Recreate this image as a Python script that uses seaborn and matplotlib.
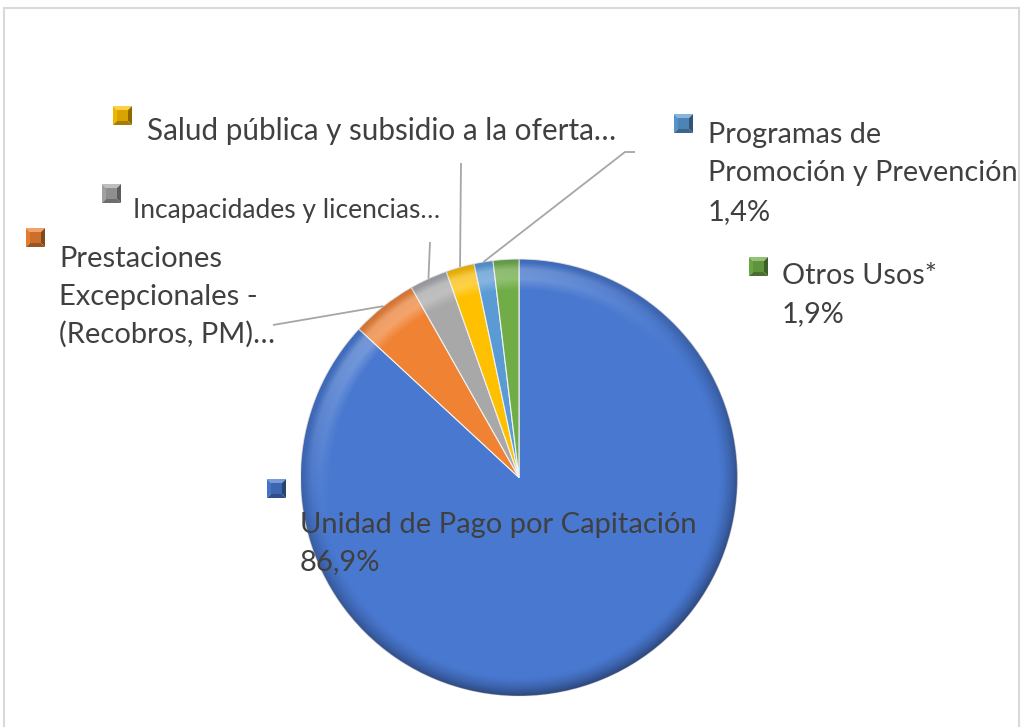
import numpy as np
import matplotlib
matplotlib.use("Agg")
import matplotlib.pyplot as plt
import matplotlib.colors as mcolors
import seaborn as sns
from matplotlib.patches import Circle, Polygon, Rectangle

# Shares of spending by use (%)
categories = [
    "Unidad de Pago por Capitación",
    "Prestaciones Excepcionales - (Recobros, PM)",
    "Incapacidades y licencias",
    "Salud pública y subsidio a la oferta",
    "Programas de Promoción y Prevención",
    "Otros Usos*",
]
shares = [86.9, 4.9, 2.8, 2.1, 1.4, 1.9]
colors = ["#4878CF", "#F08234", "#A8A8A8", "#FFC000", "#5B9BD5", "#70AD47"]


def pct(v):
    return f"{v:.1f}".replace(".", ",") + "%"


# Label text lines as printed next to each slice
label_lines = [
    [categories[0], pct(shares[0])],
    ["Prestaciones", "Excepcionales -", "(Recobros, PM)…"],
    ["Incapacidades y licencias…"],
    ["Salud pública y subsidio a la oferta…"],
    ["Programas de", "Promoción y Prevención", pct(shares[4])],
    [categories[5], pct(shares[5])],
]

sns.set_theme(style="white")
plt.rcParams["font.family"] = ["Lato", "DejaVu Sans"]

W, H = 1022, 727
fig = plt.figure(figsize=(W / 100, H / 100), dpi=100)
ax = fig.add_axes([0, 0, 1, 1])


def py(y):
    """Convert a top-down pixel row to the axes' bottom-up coordinate."""
    return H - y


cx, cy, R = 519.0, py(477.5), 218.5
wedges, _ = ax.pie(
    shares,
    colors=colors,
    startangle=90,
    counterclock=False,
    center=(cx, cy),
    radius=R,
    wedgeprops=dict(edgecolor="#F2F2F2", linewidth=0.8),
)
ax.set_xlim(0, W)
ax.set_ylim(0, H)
ax.set_aspect("equal")
ax.axis("off")

# Bevel-like shading along the rim of the pie
n = 700
xs = np.linspace(cx - R, cx + R, n)
ys = np.linspace(cy - R, cy + R, n)
X, Y = np.meshgrid(xs, ys)
dx, dy = X - cx, Y - cy
r = np.hypot(dx, dy) / R
ux, uy = dx / np.maximum(r * R, 1e-6), dy / np.maximum(r * R, 1e-6)
lx, ly = -0.45, 0.89
d = ux * lx + uy * ly
rim = np.clip((r - 0.91) / 0.09, 0, 1) ** 1.6
dark = np.zeros((n, n, 4))
dark[..., :3] = np.array(mcolors.to_rgb("#1F2F55"))
dark[..., 3] = rim * (0.15 + 0.55 * (1 - d) / 2)
im = ax.imshow(dark, origin="lower", extent=(cx - R, cx + R, cy - R, cy + R),
               interpolation="bilinear", zorder=3)
im.set_clip_path(Circle((cx, cy), R, transform=ax.transData))

band = np.clip((r - 0.86) / 0.05, 0, 1) * np.clip((0.985 - r) / 0.03, 0, 1)
light = np.zeros((n, n, 4))
light[..., :3] = 1.0
light[..., 3] = band * np.clip(d, 0, 1) ** 2 * 0.28
im2 = ax.imshow(light, origin="lower", extent=(cx - R, cx + R, cy - R, cy + R),
                interpolation="bilinear", zorder=3)
im2.set_clip_path(Circle((cx, cy), R, transform=ax.transData))
ax.set_xlim(0, W)
ax.set_ylim(0, H)

text_color = "#404040"
leader_color = "#A6A6A6"


def rim_mid(w):
    a = np.deg2rad((w.theta1 + w.theta2) / 2)
    return cx + R * np.cos(a), cy + R * np.sin(a)


# Leader lines from slice edge to its label
leaders = {
    1: [(273, 325)],
    2: [(430, 242)],
    3: [(461, 163)],
    4: [(625, 152), (635, 152)],
}
for i, pts in leaders.items():
    x0, y0 = rim_mid(wedges[i])
    xs_l = [x0] + [p[0] for p in pts]
    ys_l = [y0] + [py(p[1]) for p in pts]
    ax.plot(xs_l, ys_l, color=leader_color, lw=1.3, zorder=2, solid_capstyle="butt")


def mix(c, other, t):
    c = np.array(mcolors.to_rgb(c))
    o = np.array(mcolors.to_rgb(other))
    return tuple(c * (1 - t) + o * t)


def draw_key(x, ytop, s, color):
    x0, x1 = x, x + s
    y1, y0 = py(ytop), py(ytop + s)
    inset = s * 0.22
    xi0, xi1, yi0, yi1 = x0 + inset, x1 - inset, y0 + inset, y1 - inset
    faces = [
        ([(x0, y1), (x1, y1), (xi1, yi1), (xi0, yi1)], mix(color, "white", 0.25)),
        ([(x0, y0), (x0, y1), (xi0, yi1), (xi0, yi0)], mix(color, "black", 0.05)),
        ([(x1, y0), (x1, y1), (xi1, yi1), (xi1, yi0)], mix(color, "black", 0.45)),
        ([(x0, y0), (x1, y0), (xi1, yi0), (xi0, yi0)], mix(color, "black", 0.35)),
    ]
    for verts, fc in faces:
        ax.add_patch(Polygon(verts, closed=True, fc=fc, ec="none", zorder=4))
    ax.add_patch(Rectangle((xi0, yi0), xi1 - xi0, yi1 - yi0,
                           fc=mix(color, "black", 0.15), ec="none", zorder=4))


# Label layout: key square (x, top), text x, first baseline, line step, size
layout = [
    dict(key=(267, 479), tx=300, base=533, step=37, fs=21),
    dict(key=(26, 228), tx=59, base=267, step=38, fs=21),
    dict(key=(102, 184), tx=133, base=218, step=38, fs=19),
    dict(key=(113, 106), tx=147, base=140, step=38, fs=21.3),
    dict(key=(674, 114), tx=708, base=143, step=38.5, fs=20.8),
    dict(key=(749, 257), tx=782, base=284, step=38, fs=20.7),
]

for i, lay in enumerate(layout):
    draw_key(lay["key"][0], lay["key"][1], 19, colors[i])
    for k, line in enumerate(label_lines[i]):
        ax.text(lay["tx"], py(lay["base"] + k * lay["step"]), line,
                fontsize=lay["fs"], color=text_color, ha="left",
                va="baseline", zorder=5)

# Chart-area frame
ax.add_patch(Rectangle((4, -10), 1015, H - 8 + 10, fill=False,
                       ec="#D9D9D9", lw=1.5, zorder=1))

fig.savefig("out.png", dpi=100)
